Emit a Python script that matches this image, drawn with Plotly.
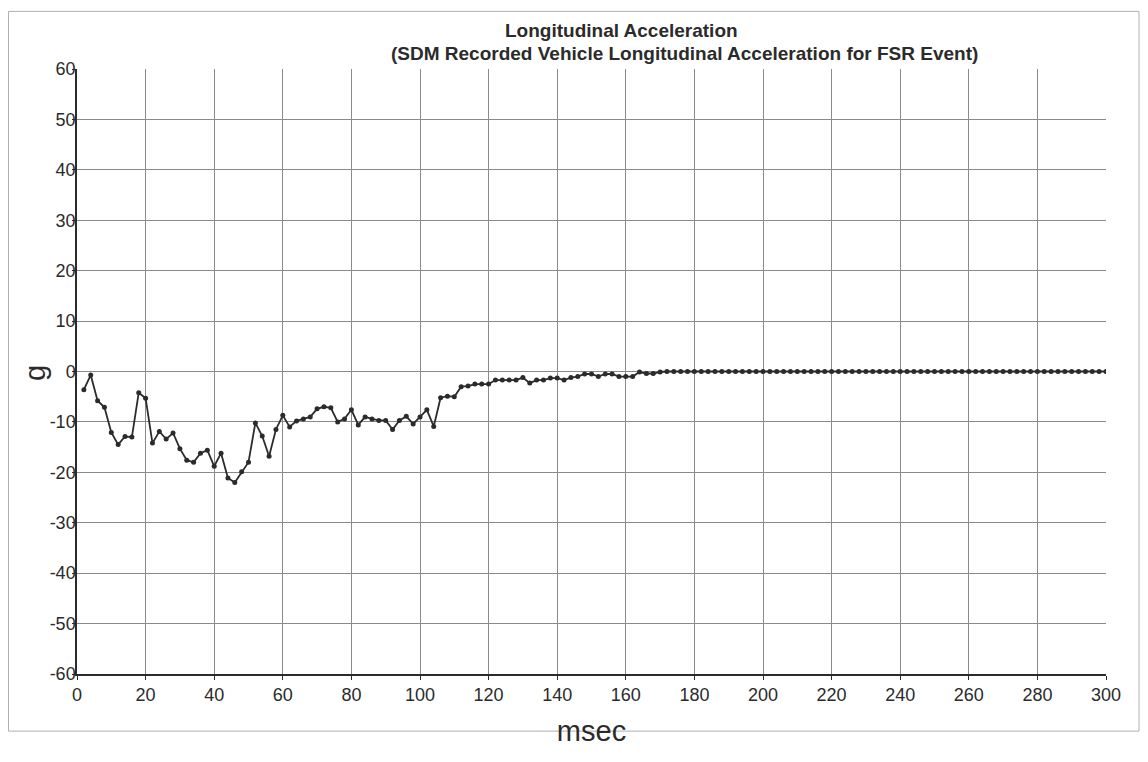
import plotly.graph_objects as go

# Data (time in msec, acceleration in g)
time_ms = list(range(2, 301, 2))
accel_g = [
    -3.6, -0.7, -5.8, -7.1, -12.1, -14.5, -12.9, -13.0, -4.2, -5.3,
    -14.2, -11.9, -13.4, -12.2, -15.3, -17.6, -18.0, -16.2, -15.6, -18.8,
    -16.2, -21.1, -22.0, -19.9, -18.0, -10.2, -12.8, -16.8, -11.5, -8.7,
    -11.0, -9.8, -9.4, -9.0, -7.4, -7.0, -7.2, -10.0, -9.4, -7.6,
    -10.6, -9.0, -9.4, -9.7, -9.7, -11.5, -9.7, -8.9, -10.4, -9.0,
    -7.6, -10.9, -5.2, -4.9, -5.0, -3.0, -2.9, -2.5, -2.5, -2.5,
    -1.7, -1.7, -1.7, -1.7, -1.2, -2.3, -1.7, -1.7, -1.3, -1.3,
    -1.7, -1.2, -1.0, -0.5, -0.5, -1.0, -0.5, -0.5, -1.0, -1.0,
    -1.0, -0.1, -0.4, -0.4, -0.1, 0.0, 0.0, 0.0, 0.0, 0.0,
    0.0, 0.0, 0.0, 0.0, 0.0, 0.0, 0.0, 0.0, 0.0, 0.0,
    0.0, 0.0, 0.0, 0.0, 0.0, 0.0, 0.0, 0.0, 0.0, 0.0,
    0.0, 0.0, 0.0, 0.0, 0.0, 0.0, 0.0, 0.0, 0.0, 0.0,
    0.0, 0.0, 0.0, 0.0, 0.0, 0.0, 0.0, 0.0, 0.0, 0.0,
    0.0, 0.0, 0.0, 0.0, 0.0, 0.0, 0.0, 0.0, 0.0, 0.0,
    0.0, 0.0, 0.0, 0.0, 0.0, 0.0, 0.0, 0.0, 0.0, 0.0,
]
x_ticks = list(range(0, 301, 20))
y_ticks = list(range(-60, 61, 10))
title_line1 = "Longitudinal Acceleration"
title_line2 = "(SDM Recorded Vehicle Longitudinal Acceleration for FSR Event)"
x_title = "msec"
y_title = "g"

FONT = "Liberation Sans, Arial, sans-serif"
INK = "#2b2b2b"
GRID = "#8a8a8a"

fig = go.Figure()
fig.add_trace(go.Scatter(
    x=time_ms, y=accel_g, mode="lines+markers",
    line=dict(color=INK, width=1.8),
    marker=dict(color=INK, size=5),
    showlegend=False,
))

# page has an 8px body margin; figure sized to fit the window
OFF = 8
W, H = 1132, 746
L, T = 77 - OFF, 69 - OFF
R = W - (1106 - OFF)
B = H - (694 - OFF)
pw, ph = W - L - R, H - T - B

def px(page_x):
    return (page_x - OFF - L) / pw

def py(page_y):
    return (H - B - (page_y - OFF)) / ph

fig.update_layout(
    width=W, height=H,
    margin=dict(l=L, r=R, t=T, b=B),
    paper_bgcolor="white", plot_bgcolor="white",
    font=dict(family=FONT, color=INK),
    xaxis=dict(
        range=[0, 300], tickvals=x_ticks, ticktext=[str(v) for v in x_ticks],
        showgrid=True, gridcolor=GRID, gridwidth=1,
        showline=True, linecolor=INK, linewidth=1.5,
        ticks="outside", ticklen=4, tickcolor=INK,
        tickfont=dict(size=18, family=FONT, color=INK),
        zeroline=False,
        title=dict(text=x_title, font=dict(size=29, family=FONT, color=INK), standoff=16),
    ),
    yaxis=dict(
        range=[-60, 60], tickvals=y_ticks, ticktext=[str(v) for v in y_ticks],
        showgrid=True, gridcolor=GRID, gridwidth=1,
        showline=True, linecolor=INK, linewidth=1.5,
        ticks="outside", ticklen=3, tickcolor=INK,
        tickfont=dict(size=18, family=FONT, color=INK),
        ticklabelstandoff=-7,
        zeroline=False,
    ),
    annotations=[
        dict(text="<b>" + title_line1 + "</b>", x=px(621), y=py(29), xref="paper", yref="paper",
             xanchor="center", yanchor="middle", showarrow=False,
             font=dict(size=19, family=FONT, color=INK)),
        dict(text="<b>" + title_line2 + "</b>", x=px(684), y=py(53), xref="paper", yref="paper",
             xanchor="center", yanchor="middle", showarrow=False,
             font=dict(size=19, family=FONT, color=INK)),
        dict(text=y_title, x=px(35), y=py(383), xref="paper", yref="paper",
             xanchor="center", yanchor="middle", showarrow=False, textangle=-90,
             font=dict(size=29, family=FONT, color=INK)),
    ],
    shapes=[
        dict(type="rect", xref="paper", yref="paper",
             x0=px(8.5), x1=px(1139), y0=py(753), y1=py(9.5),
             line=dict(color="#b0b0b0", width=1), layer="below"),
    ],
)

fig.write_html("out.html")
